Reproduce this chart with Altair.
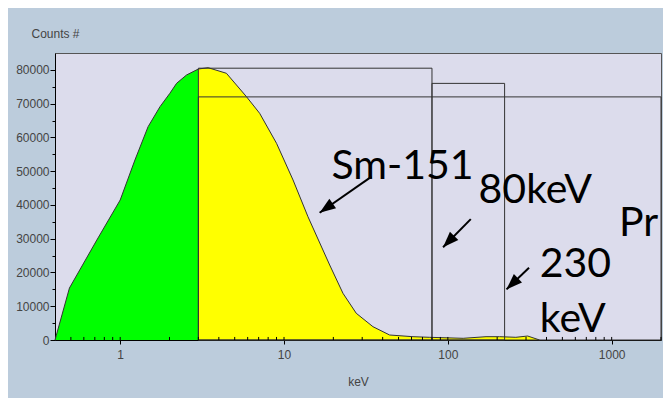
import altair as alt
import pandas as pd

# ---- spectrum (keV vs counts) ----
green_kev = [0.4, 0.49, 0.72, 1.0, 1.23, 1.48, 1.75, 2.01, 2.21, 2.54, 3.0]
green_counts = [0, 15400, 29600, 41460, 53300, 63170, 69100, 73060, 76030, 78480, 80260]

yellow_kev = [3.0, 3.44, 4.45, 5.9, 7.1, 9.0, 11.35, 14.0, 19.0, 22.9, 27.6, 34.9,
              44.1, 61.3, 77, 124, 171, 207, 260, 307, 363]
yellow_counts = [80260, 80650, 78990, 72060, 67140, 58260, 47390, 36520, 22210, 13830,
                 7910, 3940, 1480, 980, 800, 500, 980, 980, 800, 1180, 0]

# ---- energy windows (outlined boxes) ----
window_lo = [3, 80, 3]
window_hi = [80, 222, 2000]
window_top = [80500, 76000, 72000]

# ---- annotations ----
label_text = ["Sm-151", "80keV", "230", "keV", "Pr"]
label_kev = [19.5, 154, 364, 364, 1110]
label_counts = [47700, 40500, 18750, 2460, 30800]

arrow_name = ["sm", "k80", "k230"]
arrow_from_kev = [34.2, 138, 313]
arrow_from_counts = [48400, 35800, 21400]
arrow_to_kev = [16.5, 93.5, 228]
arrow_to_counts = [37700, 27450, 15000]

# ---- ticks ----
y_tick_values = [0, 5000, 10000, 15000, 20000, 25000, 30000, 35000, 40000, 45000,
                 50000, 55000, 60000, 65000, 70000, 75000, 80000]
x_major = [1, 10, 100, 1000]
x_inner_ticks = [0.5, 0.6, 0.7, 0.8, 0.9, 1, 2, 3, 4, 5, 6, 7, 8, 9, 10,
                 20, 30, 40, 50, 60, 70, 80, 90, 100, 200, 300, 400, 500, 600, 700,
                 800, 900, 1000, 2000]

green = pd.DataFrame({"kev": green_kev, "counts": green_counts})
yellow = pd.DataFrame({"kev": yellow_kev, "counts": yellow_counts})
windows = pd.DataFrame({"lo": window_lo, "hi": window_hi, "top": window_top})
labels = pd.DataFrame({"text": label_text, "kev": label_kev, "counts": label_counts})
arrows = pd.DataFrame({"name": arrow_name, "x0": arrow_from_kev, "y0": arrow_from_counts,
                       "x1": arrow_to_kev, "y1": arrow_to_counts})
inner = pd.DataFrame({"kev": x_inner_ticks})

FONT = "Liberation Sans"
YMAJOR = "datum.value % 10000 === 0"

xscale = alt.Scale(type="log", domain=[0.4, 2000], nice=False)
yscale = alt.Scale(domain=[0, 85000], nice=False)

xaxis = alt.Axis(
    title="keV", values=x_major, format="d", tickSize=4,
    grid=False, domainColor="black", tickColor="black", labelFont=FONT, labelFontSize=12,
    labelColor="#444", labelPadding=5, titleFont=FONT, titleFontSize=12, titleFontWeight="normal",
    titleColor="#444", titleY=45, titleBaseline="alphabetic", labelFlush=False, labelOverlap=False,
)
yaxis = alt.Axis(
    title="Counts #", values=y_tick_values,
    labelExpr="(" + YMAJOR + ") ? format(datum.value,'d') : ''",
    tickSize={"condition": {"test": YMAJOR, "value": 5}, "value": 3},
    grid=False, domainColor="black", tickColor="black", labelFont=FONT, labelFontSize=12,
    labelColor="#444", labelPadding=1, titleFont=FONT, titleFontSize=12, titleFontWeight="normal",
    titleColor="#444", titleAngle=0, titleAlign="left", titleX=-24, titleY=-16,
    titleBaseline="alphabetic", labelFlush=False, labelOverlap=False,
)

green_area = alt.Chart(green).mark_area(
    color="#00FF00", opacity=1, fillOpacity=1, line={"color": "#333", "strokeWidth": 1}
).encode(x=alt.X("kev:Q", scale=xscale, axis=xaxis), y=alt.Y("counts:Q", scale=yscale, axis=yaxis))

yellow_area = alt.Chart(yellow).mark_area(
    color="#FFFF00", opacity=1, fillOpacity=1, line={"color": "#333", "strokeWidth": 1}
).encode(x=alt.X("kev:Q", axis=xaxis), y=alt.Y("counts:Q", axis=yaxis))

boxes = alt.Chart(windows).mark_rect(
    fillOpacity=0, stroke="#333", strokeWidth=1
).encode(x=alt.X("lo:Q", axis=xaxis), x2="hi:Q", y=alt.Y("top:Q", axis=yaxis), y2=alt.Y2(datum=0))

inner_ticks = alt.Chart(inner).mark_rule(color="black", strokeWidth=1).encode(
    x=alt.X("kev:Q", axis=xaxis), y=alt.Y(datum=900, type="quantitative", axis=yaxis), y2=alt.Y2(datum=0)
)

texts = alt.Chart(labels).mark_text(
    font="Lato", fontSize=41, align="left", baseline="alphabetic", color="black"
).encode(x=alt.X("kev:Q", axis=xaxis), y=alt.Y("counts:Q", axis=yaxis), text="text:N")

shafts = alt.Chart(arrows).mark_rule(color="black", strokeWidth=2).encode(
    x=alt.X("x0:Q", axis=xaxis), y=alt.Y("y0:Q", axis=yaxis), x2="x1:Q", y2="y1:Q"
)

HEAD = "M0,0 L0.55,1.5 L-0.55,1.5 Z"
heads = []
for nm, ang in [("sm", 235), ("k80", 224), ("k230", 226)]:
    heads.append(
        alt.Chart(arrows).transform_filter(alt.datum.name == nm).mark_point(
            shape=HEAD, size=450, angle=ang, filled=True, color="black", opacity=1
        ).encode(x=alt.X("x1:Q", axis=xaxis), y=alt.Y("y1:Q", axis=yaxis))
    )

chart = alt.layer(
    green_area, yellow_area, boxes, inner_ticks, texts, shafts, *heads
).properties(
    width=606, height=287, autosize="none",
    padding={"left": 47, "top": 45, "right": 2, "bottom": 58},
    background="#BCCCDC",
).configure_view(
    fill="#DCDCEC", stroke="#555", strokeWidth=1
).configure_axis(labelOverlap=False)

chart.save("out.html", embed_options={"renderer": "svg", "actions": False})
